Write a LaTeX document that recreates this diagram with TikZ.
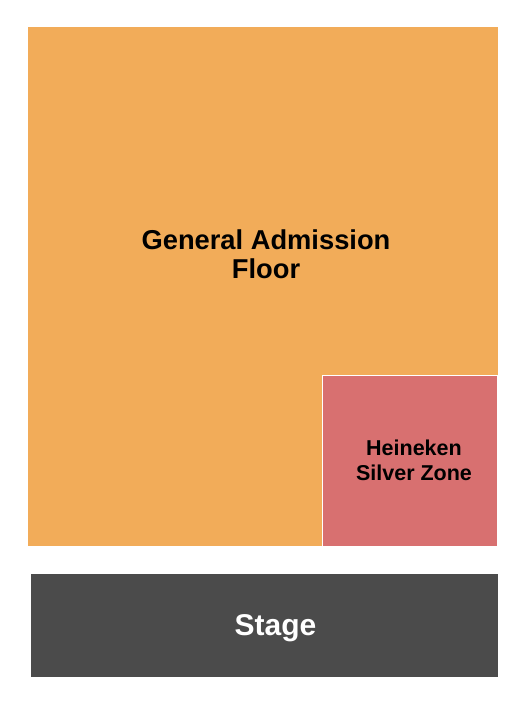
\documentclass[tikz,border=0pt]{standalone}
\usepackage{fontspec}
\setmainfont{Liberation Sans}
\definecolor{gaorange}{HTML}{F2AC59}
\definecolor{zonered}{HTML}{D87070}
\definecolor{stagegray}{HTML}{4B4B4B}
\tikzset{
  area/.style={inner sep=0pt, outer sep=0pt},
  lbl/.style={font=\bfseries, align=center, inner sep=0pt, anchor=base},
}
\begin{document}
\begin{tikzpicture}[x=1pt,y=-1pt]
\useasboundingbox (0,0) rectangle (525,705);
\fill[white] (0,0) rectangle (525,705);
% General admission floor
\fill[gaorange] (28,27) rectangle (497.5,546);
% Heineken Silver Zone
\draw[fill=zonered, draw=white, line width=1pt] (322.3,375.3) rectangle (497.5,546.3);
% Stage
\fill[stagegray] (31,574) rectangle (497.5,676.5);
% labels
\node[lbl, font=\fontsize{27.3}{29}\selectfont\bfseries] (ga) at (266,249.3) {General Admission};
\node[lbl, font=\fontsize{27.3}{29}\selectfont\bfseries] (floor) at (266,278.3) {Floor};
\node[lbl, font=\fontsize{21.5}{25}\selectfont\bfseries] (hk) at (414,455) {Heineken};
\node[lbl, font=\fontsize{21.5}{25}\selectfont\bfseries] (sz) at (414,480.7) {Silver Zone};
\node[lbl, text=white, font=\fontsize{30}{32}\selectfont\bfseries] (stage) at (275.5,635.5) {Stage};
\end{tikzpicture}
\end{document}
